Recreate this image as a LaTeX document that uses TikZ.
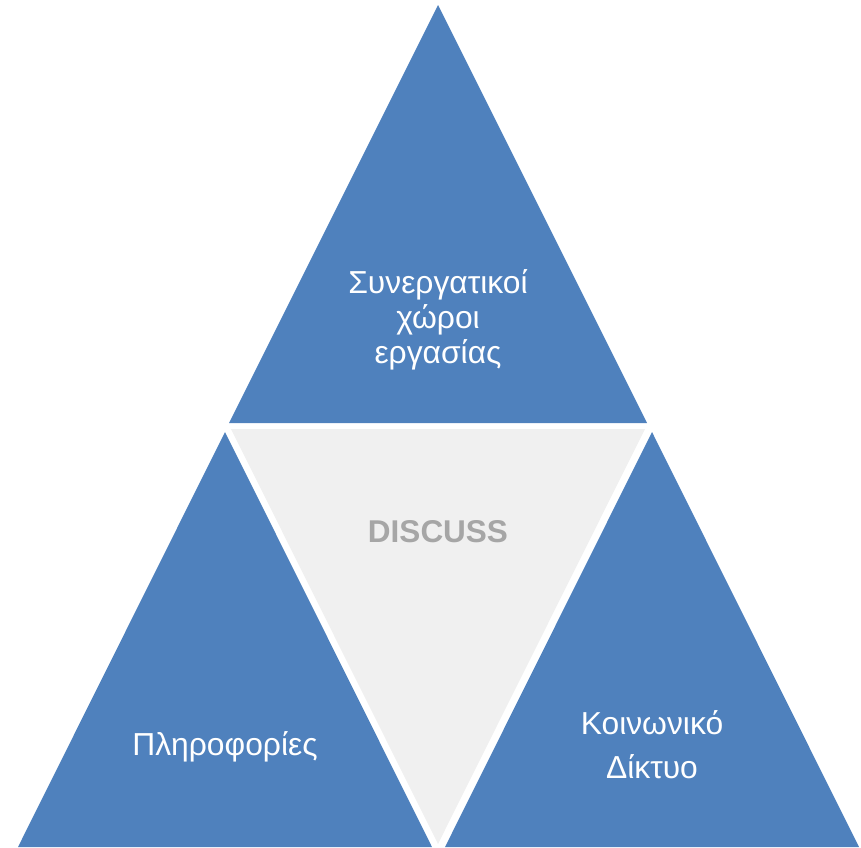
\documentclass[tikz,border=0pt]{standalone}
\usepackage{fontspec}
\setmainfont{Liberation Sans}
\definecolor{triblue}{HTML}{4F81BD}
\definecolor{trigray}{HTML}{F0F0F0}
\definecolor{txtgray}{HTML}{A6A6A6}
\begin{document}
\begin{tikzpicture}[x=1pt,y=-1pt,
        tri/.style={fill=triblue},
        lbl/.style={text=white,align=center,font=\fontsize{31.8}{35}\selectfont}]
        \useasboundingbox (0,0) rectangle (861,847);
        %% Triangles
        \fill[tri] (438,5) -- (647,423) -- (229,423) -- cycle;
        \fill[trigray] (231,429) -- (645,429) -- (438,844) -- cycle;
        \fill[tri] (225,432) -- (432,847) -- (18,847) -- cycle;
        \fill[tri] (652,432) -- (859,847) -- (445,847) -- cycle;
        %% Labels
        \node[lbl] (collab) at (438,320) {Συνεργατικοί\\χώροι\\εργασίας};
        \node[text=txtgray,font=\fontsize{31.5}{35}\selectfont\bfseries] (discuss) at (438,532) {DISCUSS};
        \node[lbl] (info) at (225,747) {Πληροφορίες};
        \node[lbl,font=\fontsize{31.8}{44}\selectfont] (social) at (652,745) {Κοινωνικό\\Δίκτυο};
\end{tikzpicture}
\end{document}
